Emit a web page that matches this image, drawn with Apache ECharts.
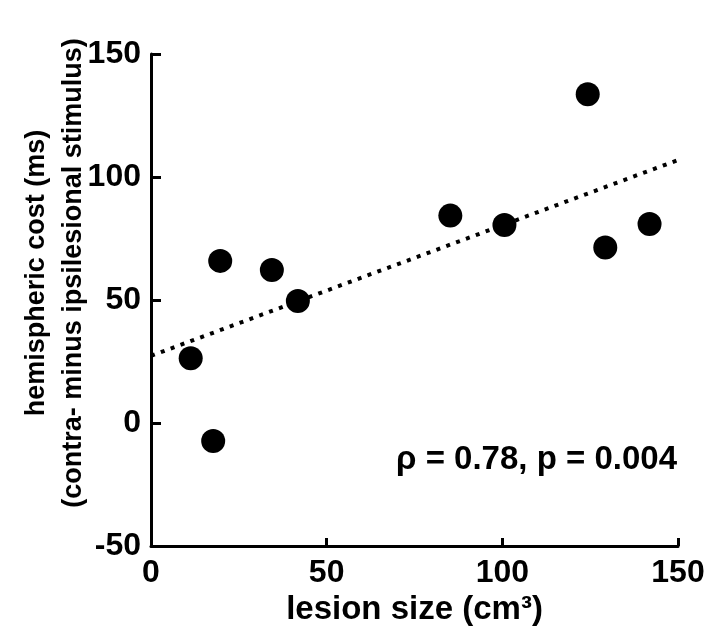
<!DOCTYPE html>
<html>
<head>
<meta charset="utf-8">
<script src="https://cdn.jsdelivr.net/npm/echarts@6/dist/echarts.min.js"></script>
<style>
html,body{margin:0;padding:0;background:#fff;}
#chart{width:714px;height:641px;}
</style>
</head>
<body>
<div id="chart"></div>
<script>
// Data
const lesionSize = [11.3, 17.7, 19.7, 34.4, 41.8, 85.2, 100.6, 124.3, 129.3, 141.9];
const hemisphericCost = [26.3, -7.3, 65.9, 62.2, 49.6, 84.3, 80.5, 133.6, 71.3, 80.9];
const trendX = [0, 150];
const trendY = [27.3, 106.9];
const xTicks = [0, 50, 100, 150];
const yTicks = [-50, 0, 50, 100, 150];
const xTitle = 'lesion size (cm³)';
const yTitleLines = ['hemispheric cost (ms)', '(contra- minus ipsilesional stimulus)'];
const statText = 'ρ = 0.78, p = 0.004';

const FONT = '"Liberation Sans", Arial, Helvetica, sans-serif';
const chart = echarts.init(document.getElementById('chart'), null, {renderer: 'canvas'});

const points = lesionSize.map((x, i) => [x, hemisphericCost[i]]);
const trend = trendX.map((x, i) => [x, trendY[i]]);

const axisCommon = {
  type: 'value',
  splitLine: {show: false},
  axisLine: {show: true, onZero: false, lineStyle: {color: '#000', width: 3}},
  axisLabel: {color: '#000', fontSize: 32, fontWeight: 'bold', fontFamily: FONT},
};

chart.setOption({
  animation: false,
  backgroundColor: '#fff',
  grid: {left: 151, right: 36, top: 54, bottom: 95},
  xAxis: Object.assign({}, axisCommon, {
    min: xTicks[0], max: xTicks[xTicks.length - 1], interval: xTicks[1] - xTicks[0],
    axisTick: {show: true, inside: true, length: 8, lineStyle: {color: '#000', width: 3}},
    axisLabel: Object.assign({}, axisCommon.axisLabel, {margin: 11}),
    name: xTitle,
    nameLocation: 'middle',
    nameGap: 47,
    nameTextStyle: {color: '#000', fontSize: 33, fontWeight: 'bold', fontFamily: FONT}
  }),
  yAxis: Object.assign({}, axisCommon, {
    min: yTicks[0], max: yTicks[yTicks.length - 1], interval: yTicks[1] - yTicks[0],
    axisTick: {show: true, inside: true, length: 10, lineStyle: {color: '#000', width: 3}},
    axisLabel: Object.assign({}, axisCommon.axisLabel, {margin: 10})
  }),
  graphic: [
    {
      type: 'text',
      rotation: Math.PI / 2,
      position: [55, 273],
      style: {
        text: yTitleLines.join('\n'),
        fill: '#000',
        font: 'bold 27px ' + FONT,
        align: 'center',
        verticalAlign: 'middle',
        lineHeight: 37
      }
    },
    {
      type: 'text',
      position: [677, 460],
      style: {
        text: statText,
        fill: '#000',
        font: 'bold 33px ' + FONT,
        align: 'right',
        verticalAlign: 'middle'
      }
    }
  ],
  series: [
    {
      type: 'line',
      data: trend,
      symbol: 'none',
      silent: true,
      z: 1,
      lineStyle: {color: '#000', width: 4, type: [4, 6.5], cap: 'butt'}
    },
    {
      type: 'scatter',
      data: points,
      symbol: 'circle',
      symbolSize: 24,
      z: 3,
      itemStyle: {color: '#000', opacity: 1},
      emphasis: {disabled: true}
    }
  ]
});
</script>
</body>
</html>
